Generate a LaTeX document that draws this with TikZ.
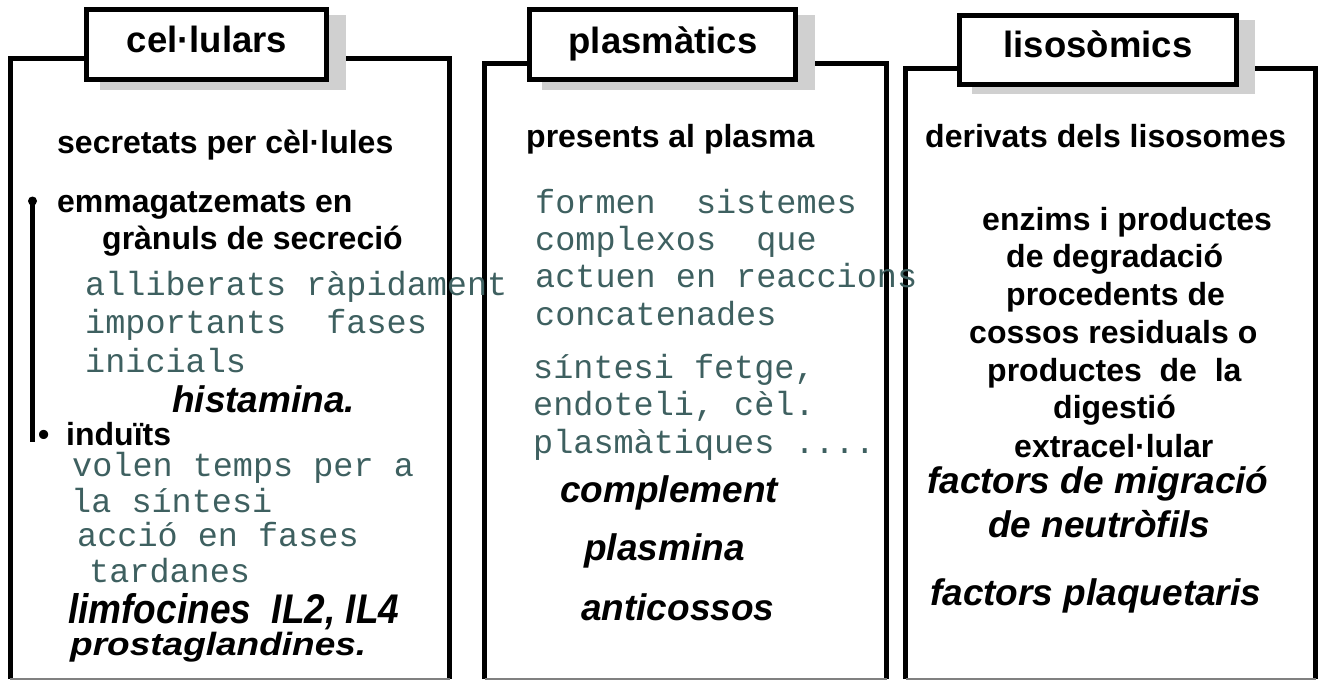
\documentclass[tikz,border=0pt]{standalone}
\usepackage{fontspec}
\usepackage{graphicx}
\setmainfont{Liberation Sans}
\newfontfamily\monofont{Liberation Mono}
\newcommand\setfs[1]{\fontsize{#1}{#1}\selectfont}
\definecolor{monocol}{RGB}{62,96,96}
\definecolor{shadecol}{RGB}{208,208,208}
\tikzset{
  panel/.style={line width=5pt, line cap=butt, line join=miter},
  panelfoot/.style={line width=1.5pt, draw=gray},
  hdrbox/.style={draw, fill=white, line width=5pt, rectangle, inner sep=0pt},
  hdrtxt/.style={anchor=base, inner sep=0pt, font=\setfs{36.5}\bfseries},
  lead/.style={anchor=base west, inner sep=0pt, font=\setfs{32}\bfseries},
  mtxt/.style={anchor=base west, inner sep=0pt, font=\setfs{33.5}\monofont, text=monocol},
  ital/.style={anchor=base west, inner sep=0pt, font=\setfs{37}\bfseries\itshape},
}
\begin{document}
\begin{tikzpicture}[x=1pt, y=-1pt]
\useasboundingbox (0,0) rectangle (1318,680);

% panel frames (open at the bottom)
\coordinate (p1a) at (10,679);   \coordinate (p1b) at (10,58.5);
\coordinate (p1c) at (449.5,58.5); \coordinate (p1d) at (449.5,679);
\coordinate (p2a) at (484.5,679); \coordinate (p2b) at (484.5,63.5);
\coordinate (p2c) at (886.5,63.5); \coordinate (p2d) at (886.5,679);
\coordinate (p3a) at (905.5,679); \coordinate (p3b) at (905.5,68);
\coordinate (p3c) at (1315.5,68); \coordinate (p3d) at (1315.5,679);
\draw[panel] (p1a) -- (p1b) -- (p1c) -- (p1d);
\draw[panel] (p2a) -- (p2b) -- (p2c) -- (p2d);
\draw[panel] (p3a) -- (p3b) -- (p3c) -- (p3d);
\draw[panelfoot] (p1a) -- (p1d);
\draw[panelfoot] (p2a) -- (p2d);
\draw[panelfoot] (p3a) -- (p3d);

% header shadows and boxes
\fill[shadecol] (100,15) rectangle (346,90);
\fill[shadecol] (542,15) rectangle (815,90);
\fill[shadecol] (972,20) rectangle (1255,94);
\node[hdrbox, minimum width=240pt, minimum height=70pt] (h1) at (206.5,44.5) {};
\node[hdrbox, minimum width=266pt, minimum height=70pt] (h2) at (662.5,44.5) {};
\node[hdrbox, minimum width=277pt, minimum height=69pt] (h3) at (1098,50) {};
\node[hdrtxt] (t1) at (207,52) {cel·lulars};
\node[hdrtxt] (t2) at (663,53) {plasmàtics};
\node[hdrtxt] (t3) at (1098,57) {lisosòmics};

% first panel
\node[lead] (c1) at (57,153) {secretats per cèl·lules};
\coordinate (btop) at (32.5,201);
\coordinate (bbot) at (32.5,442);
\draw[line width=5pt] (btop) -- (bbot);
\fill (btop) circle (4.5pt);
\node[lead] (c2) at (57,212) {emmagatzemats en};
\node[lead] (c3) at (102,249) {grànuls de secreció};
\node[mtxt] (c4) at (85,295) {alliberats ràpidament};
\node[mtxt] (c5) at (85,333) {importants\ \ fases};
\node[mtxt] (c6) at (85,372) {inicials};
\node[ital] (c7) at (172,412) {histamina.};
\node[lead] (c8) at (38,445) {•};
\node[lead] (c9) at (66,445) {induïts};
\node[mtxt] (c10) at (72,476) {volen temps per a};
\node[mtxt] (c11) at (71,512) {la síntesi};
\node[mtxt] (c12) at (77,546) {acció en fases};
\node[mtxt] (c13) at (89,582) {tardanes};
\node[ital] (c14) at (68,623) {\scalebox{1}[1.12]{limfocines\ \ IL2, IL4}};
\node[ital] (c15) at (70,655) {\scalebox{1}[0.87]{prostaglandines.}};

% second panel
\node[lead] (m1) at (526,147) {presents al plasma};
\node[mtxt] (m2) at (535,213) {formen\ \ sistemes};
\node[mtxt] (m3) at (535,250) {complexos\ \ que};
\node[mtxt] (m4) at (535,287) {actuen en reaccions};
\node[mtxt] (m5) at (535,325) {concatenades};
\node[mtxt] (m6) at (533,378) {síntesi fetge,};
\node[mtxt] (m7) at (533,415) {endoteli, cèl.};
\node[mtxt] (m8) at (533,453) {plasmàtiques ....};
\node[ital] (m9) at (560,502) {complement};
\node[ital] (m10) at (584,560) {plasmina};
\node[ital] (m11) at (581,620) {anticossos};

% third panel
\node[lead] (r1) at (925,147) {derivats dels lisosomes};
\node[lead] (r2) at (982,230) {enzims i productes};
\node[lead] (r3) at (1006,267) {de degradació};
\node[lead] (r4) at (1006,305) {procedents de};
\node[lead] (r5) at (969,343) {cossos residuals o};
\node[lead] (r6) at (987,381) {productes\ \ de\ \ la};
\node[lead] (r7) at (1053,418) {digestió};
\node[lead] (r8) at (1014,457) {extracel·lular};
\node[ital] (r9) at (927,493) {factors de migració};
\node[ital] (r10) at (988,537) {de neutròfils};
\node[ital] (r11) at (930,605) {factors plaquetaris};
\end{tikzpicture}
\end{document}
